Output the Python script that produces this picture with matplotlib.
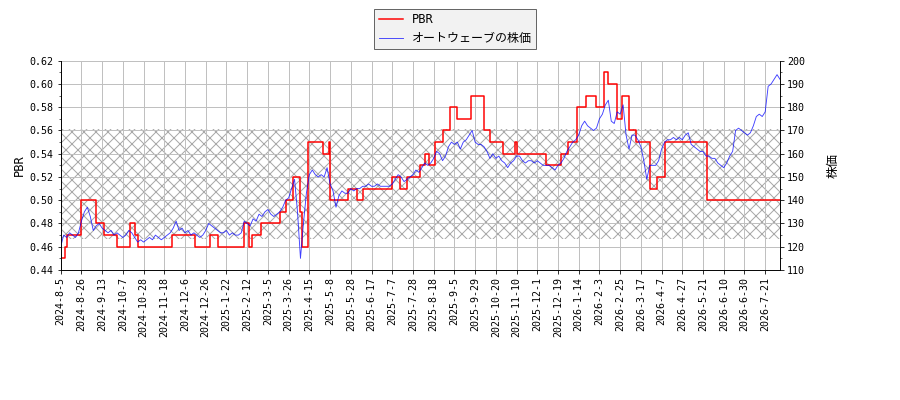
import numpy as np
import matplotlib
matplotlib.use("Agg")
import matplotlib.pyplot as plt
from matplotlib.ticker import MultipleLocator

plt.rcParams['font.family'] = ['DejaVu Sans Mono', 'Noto Sans CJK JP']

# tick labels, one every 14 trading days
date_labels = ['2024-8-5', '2024-8-26', '2024-9-13', '2024-10-7', '2024-10-28', '2024-11-18',
               '2024-12-6', '2024-12-26', '2025-1-22', '2025-2-12', '2025-3-5', '2025-3-26',
               '2025-4-15', '2025-5-8', '2025-5-28', '2025-6-17', '2025-7-7', '2025-7-28',
               '2025-8-18', '2025-9-5', '2025-9-29', '2025-10-20', '2025-11-10', '2025-12-1',
               '2025-12-19', '2026-1-14', '2026-2-3', '2026-2-25', '2026-3-17', '2026-4-7',
               '2026-4-27', '2026-5-21', '2026-6-10', '2026-6-30', '2026-7-21']
tick_step = 14
n_days = 487

# PBR: trading-day index where the value changes, and the new value
pbr_day = [0, 3, 4, 14, 24, 29, 38, 47, 50, 52,
           75, 91, 101, 106, 124, 127, 129, 135, 148, 152,
           157, 162, 163, 167, 177, 181, 182, 194, 200, 204,
           224, 229, 234, 243, 246, 249, 253, 258, 263, 268,
           277, 286, 290, 299, 307, 308, 328, 338, 343, 349,
           355, 362, 367, 370, 376, 379, 384, 389, 398, 403,
           408, 437, 486]
pbr_val = [0.45, 0.46, 0.47, 0.50, 0.48, 0.47, 0.46, 0.48, 0.47, 0.46,
           0.47, 0.46, 0.47, 0.46, 0.48, 0.46, 0.47, 0.48, 0.49, 0.50,
           0.52, 0.49, 0.46, 0.55, 0.54, 0.55, 0.50, 0.51, 0.50, 0.51,
           0.52, 0.51, 0.52, 0.53, 0.54, 0.53, 0.55, 0.56, 0.58, 0.57,
           0.59, 0.56, 0.55, 0.54, 0.55, 0.54, 0.53, 0.54, 0.55, 0.58,
           0.59, 0.58, 0.61, 0.60, 0.57, 0.59, 0.56, 0.55, 0.51, 0.52,
           0.55, 0.50, 0.50]

# share price, every 2nd trading day
price_step = 2
price = [120, 125, 124, 126, 125, 124, 126, 131, 135, 137,
         133, 127, 129, 130, 128, 127, 126, 127, 125, 126,
         125, 124, 125, 127, 126, 124, 122, 123, 122, 123,
         124, 123, 125, 124, 123, 124, 125, 126, 128, 131,
         127, 128, 126, 127, 125, 126, 125, 124, 125, 127,
         130, 129, 128, 127, 126, 126, 127, 125, 126, 125,
         125, 126, 131, 130, 129, 132, 131, 134, 133, 135,
         136, 134, 133, 134, 135, 137, 140, 141, 145, 149,
         135, 115, 130, 143, 151, 153, 151, 150, 151, 150,
         154, 147, 144, 137, 142, 144, 143, 143, 145, 144,
         145, 145, 146, 146, 147, 146, 146, 147, 146, 146,
         146, 146, 147, 149, 151, 150, 148, 149, 150, 151,
         153, 152, 154, 156, 155, 156, 158, 161, 160, 157,
         159, 163, 165, 164, 165, 162, 165, 166, 168, 170,
         165, 164, 164, 163, 161, 158, 160, 158, 159, 157,
         156, 154, 156, 157, 159, 159, 157, 156, 157, 157,
         156, 157, 156, 155, 155, 155, 154, 153, 155, 156,
         158, 161, 163, 165, 166, 168, 172, 174, 172, 171,
         170, 171, 175, 177, 181, 183, 174, 173, 178, 177,
         181, 168, 162, 168, 168, 166, 163, 157, 149, 155,
         155, 155, 157, 162, 165, 166, 166, 167, 166, 167,
         166, 168, 169, 164, 163, 162, 161, 161, 159, 159,
         158, 158, 156, 155, 154, 156, 159, 161, 170, 171,
         170, 169, 168, 169, 172, 176, 177, 176, 178, 189,
         190, 192, 194, 192]

band_low, band_high = 0.467, 0.561

fig = plt.figure(figsize=(900 / 72, 400 / 72), dpi=72)
ax = fig.add_axes([60.7 / 900, 130 / 400, 719.3 / 900, 209.3 / 400])
ax2 = ax.twinx()

ax.axhspan(band_low, band_high, facecolor='none', edgecolor='#a8a8a8', hatch='xx', lw=0, zorder=0)

l1, = ax.plot(pbr_day, pbr_val, drawstyle='steps-post', color='red', lw=1.5, label='PBR')
price_x = np.arange(len(price)) * price_step
l2, = ax2.plot(price_x, price, color='blue', lw=0.9, alpha=0.75, label='オートウェーブの株価')

ax.set_xlim(0, n_days - 1)
ax.set_ylim(0.44, 0.62)
ax2.set_ylim(110, 200)
ax.yaxis.set_major_locator(MultipleLocator(0.02))
ax.yaxis.set_minor_locator(MultipleLocator(0.01))
ax2.yaxis.set_major_locator(MultipleLocator(10))
ax2.yaxis.set_minor_locator(MultipleLocator(5))
ax.yaxis.set_major_formatter(plt.FormatStrFormatter('%.2f'))

ax.set_xticks(np.arange(len(date_labels)) * tick_step)
ax.set_xticklabels(date_labels, rotation=90)
ax.grid(True, color='#c0c0c0', lw=1.0)
for a in (ax, ax2):
    a.tick_params(labelsize=10)
    a.spines['top'].set_visible(False)

ax.set_ylabel('PBR', fontsize=12)
ax2.set_ylabel('株価', fontsize=12.5, labelpad=22)

fig.legend([l1, l2], [l1.get_label(), l2.get_label()], loc='upper center',
           bbox_to_anchor=(0.506, 0.9775), borderaxespad=0, borderpad=0.35,
           labelspacing=0.5, fancybox=False, edgecolor='#666666',
           facecolor='#f2f2f2', framealpha=1, fontsize=12)

fig.savefig('out.png', dpi=72)
